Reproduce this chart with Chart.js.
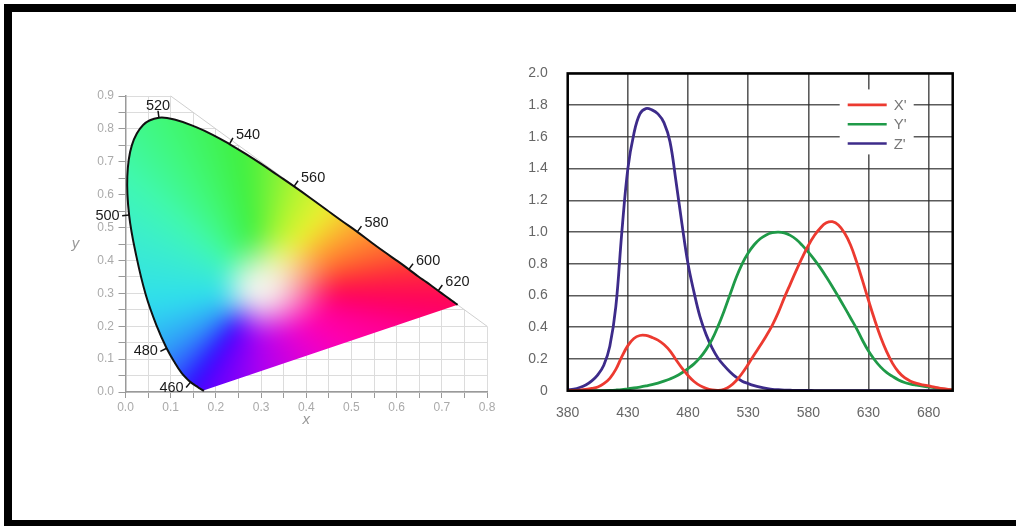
<!DOCTYPE html>
<html>
<head>
<meta charset="utf-8">
<script src="https://cdn.jsdelivr.net/npm/chart.js@4.4.1/dist/chart.umd.min.js"></script>
<style>
  html, body { margin: 0; padding: 0; background: #fff; }
  body { width: 1016px; height: 527px; position: relative; overflow: hidden; }
  .frame { position: absolute; left: 4px; top: 4px; width: 1012px; height: 522px; box-sizing: border-box;
           border-top: 8px solid #000; border-left: 8px solid #000; border-bottom: 6px solid #000; }
  #chroma { position: absolute; left: 55px; top: 75px; }
  #cmf { position: absolute; left: 520px; top: 45px; }
</style>
</head>
<body>
<div class="frame"></div>
<canvas id="chroma" width="470" height="370"></canvas>
<canvas id="cmf" width="480" height="395"></canvas>
<script>
// spectral locus (CIE 1931 xy), wavelength in nm
const locusNm = [380, 420, 430, 440, 450, 455, 460, 465, 470, 475, 480, 485, 490, 495, 500, 505, 510, 515, 520, 525,
                 530, 535, 540, 545, 550, 555, 560, 565, 570, 575, 580, 585, 590, 595, 600, 605, 610, 615, 620, 630,
                 640, 650, 660, 680];
const locusX = [0.174, 0.171, 0.169, 0.164, 0.157, 0.151, 0.144, 0.136, 0.124, 0.110, 0.091, 0.069, 0.045, 0.024, 0.008, 0.004, 0.014, 0.039, 0.074, 0.114,
                0.155, 0.193, 0.230, 0.266, 0.302, 0.337, 0.373, 0.409, 0.444, 0.479, 0.513, 0.545, 0.575, 0.603, 0.627, 0.648, 0.666, 0.680, 0.692, 0.708,
                0.719, 0.726, 0.730, 0.735];
const locusY = [0.005, 0.005, 0.007, 0.011, 0.018, 0.023, 0.030, 0.040, 0.058, 0.087, 0.133, 0.201, 0.295, 0.413, 0.538, 0.655, 0.750, 0.812, 0.834, 0.826,
                0.806, 0.782, 0.754, 0.724, 0.692, 0.659, 0.625, 0.590, 0.555, 0.520, 0.487, 0.454, 0.424, 0.397, 0.373, 0.351, 0.334, 0.320, 0.308, 0.292,
                0.281, 0.274, 0.270, 0.265];
const markerNm = [460, 480, 500, 520, 540, 560, 580, 600, 620];

// colour matching functions
const cmfNm = [380, 385, 390, 395, 400, 405, 410, 415, 420, 425, 430, 435, 440, 445, 450, 455, 460, 465, 470, 475,
               480, 485, 490, 495, 500, 505, 510, 515, 520, 525, 530, 535, 540, 545, 550, 555, 560, 565, 570, 575,
               580, 585, 590, 595, 600, 605, 610, 615, 620, 625, 630, 635, 640, 645, 650, 655, 660, 665, 670, 675,
               680, 685, 690, 695, 700];
const xBar = [0.001, 0.002, 0.004, 0.008, 0.014, 0.023, 0.044, 0.078, 0.134, 0.215, 0.284, 0.329, 0.348, 0.348, 0.336, 0.319, 0.291, 0.251, 0.195, 0.142,
              0.096, 0.058, 0.032, 0.015, 0.005, 0.002, 0.009, 0.029, 0.063, 0.110, 0.166, 0.226, 0.285, 0.345, 0.412, 0.492, 0.585, 0.672, 0.758, 0.840,
              0.915, 0.978, 1.026, 1.058, 1.065, 1.045, 0.995, 0.920, 0.815, 0.695, 0.570, 0.450, 0.340, 0.248, 0.172, 0.118, 0.082, 0.060, 0.046, 0.037,
              0.030, 0.022, 0.015, 0.010, 0.006];
const yBar = [0.000, 0.000, 0.000, 0.000, 0.000, 0.001, 0.001, 0.002, 0.004, 0.007, 0.012, 0.017, 0.023, 0.030, 0.038, 0.048, 0.060, 0.074, 0.091, 0.113,
              0.139, 0.169, 0.208, 0.259, 0.323, 0.407, 0.503, 0.608, 0.712, 0.800, 0.868, 0.920, 0.958, 0.982, 0.996, 1.000, 0.995, 0.979, 0.953, 0.916,
              0.873, 0.826, 0.774, 0.716, 0.655, 0.592, 0.527, 0.460, 0.393, 0.318, 0.250, 0.195, 0.150, 0.115, 0.090, 0.068, 0.052, 0.042, 0.035, 0.029,
              0.024, 0.018, 0.012, 0.008, 0.005];
const zBar = [0.006, 0.010, 0.020, 0.036, 0.062, 0.100, 0.160, 0.280, 0.530, 1.000, 1.400, 1.620, 1.745, 1.778, 1.770, 1.745, 1.690, 1.570, 1.320, 1.050,
              0.800, 0.620, 0.465, 0.355, 0.270, 0.205, 0.158, 0.118, 0.085, 0.060, 0.045, 0.032, 0.022, 0.014, 0.009, 0.006, 0.004, 0.003, 0.002, 0.002,
              0.002, 0.001, 0.001, 0.001, 0.001, 0.001, 0.000, 0.000, 0.000, 0.000, 0.000, 0.000, 0.000, 0.000, 0.000, 0.000, 0.000, 0.000, 0.000, 0.000,
              0.000, 0.000, 0.000, 0.000, 0.000];
const cmfLabels = ["X'", "Y'", "Z'"];
const cmfTicks = [380, 430, 480, 530, 580, 630, 680];

const FONT = '"Liberation Sans", Arial, sans-serif';

// colouring of the gamut: hue by angle round the white spot, fading to white near it
const whitePt = [0.295, 0.31];
const hex = h => [parseInt(h.slice(1, 3), 16), parseInt(h.slice(3, 5), 16), parseInt(h.slice(5, 7), 16)];
const tintStops = [
  [0, '#ff1050'], [10, '#ff3038'], [18, '#ff5830'], [39, '#ffa030'], [59, '#eef030'], [76, '#b0f530'],
  [95, '#40f040'], [112, '#40f878'], [130, '#40f8b0'], [145, '#3cf0c8'], [162, '#38e8d8'], [185, '#30e0ea'],
  [200, '#30cff2'], [221, '#30a0f8'], [236, '#3050ff'], [242, '#2a10ff'], [250, '#6000ff'], [272, '#b000f0'],
  [300, '#e800d0'], [320, '#ff00b0'], [340, '#ff0090'], [353, '#ff0060']
].map(([a, h]) => [a, hex(h)]);
const fadeStops = [[0, 0.19], [45, 0.2], [90, 0.2], [130, 0.13], [180, 0.1], [220, 0.12], [270, 0.16], [320, 0.17]]
  .map(([a, r]) => [a, [r]]);

function angleLerp(stops, ang) {
  const n = stops.length;
  let a0, a1;
  if (ang >= stops[n - 1][0]) { a0 = stops[n - 1]; a1 = [stops[0][0] + 360, stops[0][1]]; }
  else if (ang < stops[0][0]) { a0 = [stops[n - 1][0] - 360, stops[n - 1][1]]; a1 = stops[0]; }
  else {
    for (let i = 0; i < n - 1; i++) {
      if (ang >= stops[i][0] && ang < stops[i + 1][0]) { a0 = stops[i]; a1 = stops[i + 1]; break; }
    }
  }
  const t = (ang - a0[0]) / (a1[0] - a0[0]);
  return a0[1].map((v, k) => v + (a1[1][k] - v) * t);
}

function tintAt(x, y) {
  const dx = x - whitePt[0], dy = y - whitePt[1];
  let ang = Math.atan2(dy, dx) * 180 / Math.PI;
  if (ang < 0) ang += 360;
  const c = angleLerp(tintStops, ang);
  const r = angleLerp(fadeStops, ang)[0];
  const d = Math.hypot(dx, dy);
  let s = Math.min(1, Math.max(0, (d / r - 0.05) / 0.95));
  s = s * s * (3 - 2 * s);
  const base = [244, 244, 238];
  return c.map((v, k) => base[k] + (v - base[k]) * s);
}

// paints the grid cut-off, the coloured gamut and the wavelength marks
const chromaPaint = {
  id: 'chromaPaint',
  beforeDatasetsDraw(chart) {
    const { ctx, chartArea: a } = chart;
    const xs = chart.scales.x, ys = chart.scales.y;
    const p1 = [xs.getPixelForValue(0.1), ys.getPixelForValue(0.9)];
    const p2 = [xs.getPixelForValue(0.8), ys.getPixelForValue(0.2)];
    ctx.save();
    ctx.fillStyle = '#fff';
    ctx.beginPath();
    ctx.moveTo(p1[0], a.top - 3);
    ctx.lineTo(a.right + 3, a.top - 3);
    ctx.lineTo(a.right + 3, p2[1]);
    ctx.lineTo(p2[0], p2[1]);
    ctx.lineTo(p1[0], p1[1]);
    ctx.closePath();
    ctx.fill();
    ctx.strokeStyle = '#cfcfcf';
    ctx.lineWidth = 1;
    ctx.beginPath();
    ctx.moveTo(p1[0], p1[1]);
    ctx.lineTo(p2[0], p2[1]);
    ctx.stroke();

    const m = 30;
    const w = Math.round(a.right - a.left) + 2 * m, h = Math.round(a.bottom - a.top) + 2 * m;
    const off = document.createElement('canvas');
    off.width = w; off.height = h;
    const octx = off.getContext('2d');
    const img = octx.createImageData(w, h);
    for (let j = 0; j < h; j++) {
      const yv = ys.getValueForPixel(a.top - m + j + 0.5);
      for (let i = 0; i < w; i++) {
        const xv = xs.getValueForPixel(a.left - m + i + 0.5);
        const c = tintAt(xv, yv);
        const k = (j * w + i) * 4;
        img.data[k] = c[0]; img.data[k + 1] = c[1]; img.data[k + 2] = c[2]; img.data[k + 3] = 255;
      }
    }
    octx.putImageData(img, 0, 0);
    const soft = document.createElement('canvas');
    soft.width = w; soft.height = h;
    const sctx = soft.getContext('2d');
    sctx.filter = 'blur(9px)';
    sctx.drawImage(off, 0, 0);

    const meta = chart.getDatasetMeta(0);
    const line = meta.dataset;
    ctx.beginPath();
    if (line && typeof line.path === 'function') {
      line.path(ctx);
    } else {
      meta.data.forEach((p, i) => i ? ctx.lineTo(p.x, p.y) : ctx.moveTo(p.x, p.y));
    }
    ctx.closePath();
    ctx.clip();
    ctx.drawImage(soft, a.left - m, a.top - m);
    ctx.restore();
  },
  afterDatasetsDraw(chart) {
    const { ctx, chartArea: a } = chart;
    const xs = chart.scales.x, ys = chart.scales.y;
    const px = i => [xs.getPixelForValue(locusX[i]), ys.getPixelForValue(locusY[i])];
    const wp = [xs.getPixelForValue(whitePt[0]), ys.getPixelForValue(whitePt[1])];
    ctx.save();
    ctx.strokeStyle = '#111';
    ctx.fillStyle = '#1a1a1a';
    ctx.lineWidth = 1.5;
    ctx.font = '14.5px ' + FONT;
    markerNm.forEach(nm => {
      const i = locusNm.indexOf(nm);
      const p = px(i), pa = px(i - 1), pb = px(i + 1);
      let tx = pb[0] - pa[0], ty = pb[1] - pa[1];
      const len = Math.hypot(tx, ty);
      tx /= len; ty /= len;
      let nx = ty, ny = -tx;
      if (nx * (p[0] - wp[0]) + ny * (p[1] - wp[1]) < 0) { nx = -nx; ny = -ny; }
      const e = [p[0] + nx * 7, p[1] + ny * 7];
      ctx.beginPath();
      ctx.moveTo(p[0], p[1]);
      ctx.lineTo(e[0], e[1]);
      ctx.stroke();
      if (nx < -0.3) {
        ctx.textAlign = 'right'; ctx.textBaseline = 'middle';
        ctx.fillText(String(nm), e[0] - 2.5, e[1]);
      } else if (nx > 0.3) {
        ctx.textAlign = 'left'; ctx.textBaseline = 'alphabetic';
        ctx.fillText(String(nm), e[0] + 3, e[1] + 1);
      } else {
        ctx.textAlign = 'center'; ctx.textBaseline = 'alphabetic';
        ctx.fillText(String(nm), e[0], e[1] - 1);
      }
    });
    ctx.fillStyle = '#999';
    ctx.font = 'italic 15px ' + FONT;
    ctx.textAlign = 'center';
    ctx.textBaseline = 'middle';
    ctx.fillText('y', a.left - 50, (a.top + a.bottom) / 2);
    ctx.restore();
  }
};

const tenths = v => {
  const r = Math.round(v * 100);
  return r % 10 === 0 ? (r / 100).toFixed(1) : '';
};

new Chart(document.getElementById('chroma'), {
  type: 'scatter',
  data: {
    datasets: [{
      data: locusX.map((x, i) => ({ x: x, y: locusY[i] })),
      showLine: true,
      borderColor: '#111',
      borderWidth: 2,
      pointRadius: 0,
      tension: 0.4,
      fill: false
    }]
  },
  options: {
    responsive: false,
    animation: false,
    events: [],
    layout: { padding: { top: 21, right: 38, left: 0, bottom: 0 } },
    plugins: { legend: { display: false }, tooltip: { enabled: false } },
    scales: {
      x: {
        type: 'linear', min: 0, max: 0.8,
        afterFit: s => { s.height = 53; },
        ticks: { stepSize: 0.05, autoSkip: false, maxRotation: 0, padding: 2, color: '#aaa',
                 font: { size: 12, family: FONT }, callback: tenths },
        grid: { color: '#dcdcdc', lineWidth: 1, tickColor: '#9a9a9a', tickLength: 6 },
        border: { color: '#9a9a9a', width: 1.5 },
        title: { display: true, text: 'x', color: '#999', padding: { top: 0, bottom: 16.6 },
                 font: { size: 15, style: 'italic', family: FONT } }
      },
      y: {
        type: 'linear', min: 0, max: 0.9,
        afterFit: s => { s.width = 70.5; },
        ticks: { stepSize: 0.05, autoSkip: false, padding: 4.5, color: '#aaa',
                 font: { size: 12, family: FONT }, callback: tenths },
        grid: { color: '#dcdcdc', lineWidth: 1, tickColor: '#9a9a9a', tickLength: 7 },
        border: { color: '#9a9a9a', width: 1.5 }
      }
    }
  },
  plugins: [chromaPaint]
});

// legend box inside the plot and the black frame round it
const cmfLegend = {
  id: 'cmfLegend',
  afterDatasetsDraw(chart) {
    const { ctx, chartArea: a } = chart;
    const x0 = a.right - 113, y0 = a.top + 16;
    ctx.save();
    ctx.fillStyle = '#fff';
    ctx.fillRect(x0, y0, 74, 65);
    chart.data.datasets.forEach((ds, i) => {
      const y = y0 + 15.5 + i * 19.3;
      ctx.strokeStyle = ds.borderColor;
      ctx.lineWidth = 2.6;
      ctx.beginPath();
      ctx.moveTo(x0 + 8, y);
      ctx.lineTo(x0 + 47, y);
      ctx.stroke();
      ctx.fillStyle = '#777';
      ctx.font = '15px ' + FONT;
      ctx.textAlign = 'left';
      ctx.textBaseline = 'middle';
      ctx.fillText(ds.label, x0 + 54, y + 1);
    });
    ctx.restore();
  },
  afterDraw(chart) {
    const { ctx, chartArea: a } = chart;
    ctx.save();
    ctx.strokeStyle = '#000';
    ctx.lineWidth = 2.5;
    ctx.strokeRect(a.left, a.top, a.right - a.left, a.bottom - a.top);
    ctx.restore();
  }
};

const cmfColors = ['#ec3a30', '#1f9a48', '#3d2b8a'];
new Chart(document.getElementById('cmf'), {
  type: 'line',
  data: {
    datasets: [xBar, yBar, zBar].map((arr, k) => ({
      label: cmfLabels[k],
      data: arr.map((v, i) => ({ x: cmfNm[i], y: v })),
      borderColor: cmfColors[k],
      borderWidth: 2.8,
      pointRadius: 0,
      tension: 0.4,
      borderJoinStyle: 'round',
      fill: false
    }))
  },
  options: {
    responsive: false,
    animation: false,
    events: [],
    layout: { padding: { top: 15.7, right: 47.3, left: 0, bottom: 0 } },
    plugins: { legend: { display: false }, tooltip: { enabled: false } },
    scales: {
      x: {
        type: 'linear', min: 380, max: 700,
        afterFit: s => { s.height = 49.3; },
        afterBuildTicks: s => { s.ticks = cmfTicks.map(v => ({ value: v })); },
        ticks: { autoSkip: false, maxRotation: 0, padding: 14, color: '#666',
                 font: { size: 14, family: FONT } },
        grid: { color: 'rgba(45,45,45,0.78)', lineWidth: 1.6, drawTicks: false },
        border: { display: false }
      },
      y: {
        type: 'linear', min: 0, max: 2,
        afterFit: s => { s.width = 47.7; },
        ticks: { stepSize: 0.2, padding: 20, color: '#666', font: { size: 14, family: FONT },
                 callback: v => (Math.abs(v) < 1e-9 ? '0' : v.toFixed(1)) },
        grid: { color: 'rgba(45,45,45,0.78)', lineWidth: 1.6, drawTicks: false },
        border: { display: false }
      }
    }
  },
  plugins: [cmfLegend]
});
</script>
</body>
</html>
